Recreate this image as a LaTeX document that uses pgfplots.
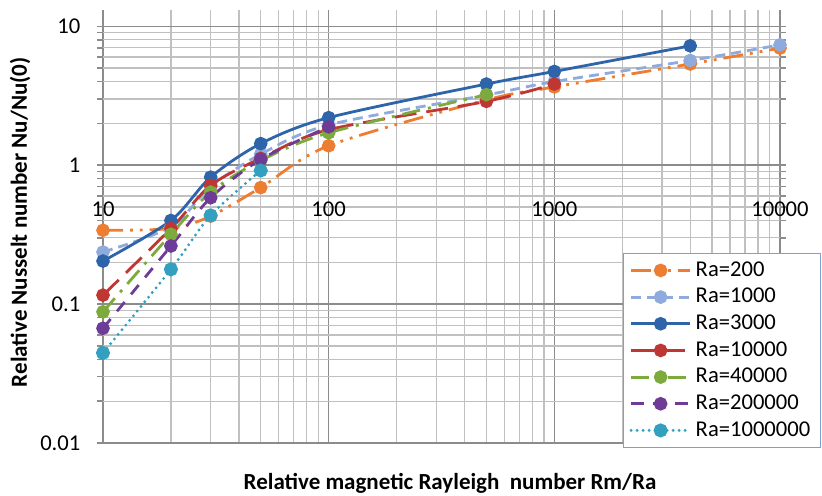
\documentclass[border=0pt]{standalone}
\usepackage{fontspec}
\setmainfont{Carlito}
\usepackage{pgfplots}
\pgfplotsset{compat=1.18}
\definecolor{cOr}{RGB}{237,125,49}
\definecolor{cLb}{RGB}{143,170,220}
\definecolor{cBl}{RGB}{46,100,170}
\definecolor{cRd}{RGB}{190,55,50}
\definecolor{cGr}{RGB}{125,170,60}
\definecolor{cPu}{RGB}{110,60,150}
\definecolor{cTe}{RGB}{50,160,190}
\definecolor{gMaj}{RGB}{140,140,140}
\definecolor{gMin}{RGB}{192,192,192}
\definecolor{legB}{RGB}{128,158,208}
\begin{document}
\begin{tikzpicture}
\path[use as bounding box] (0,0) rectangle (411pt,248pt);
\begin{axis}[
  at={(51.5pt,26.5pt)}, anchor=south west,
  width=338.5pt, height=216.5pt, scale only axis,
  xmode=log, ymode=log,
  xmin=10, xmax=10000, ymin=0.01, ymax=13.1,
  clip=false,
  axis line style={draw=none},
  grid=both,
  major grid style={draw=gMaj, line width=0.75pt},
  minor grid style={draw=gMin, line width=0.65pt},
  xtick={10,100,1000,10000},
  xticklabels={10,100,1000,10000},
  ytick={0.01,0.1,1,10},
  yticklabels={0.01,0.1,1,10},
  xtick style={draw=none},
  ytick style={draw=gMaj, line width=0.75pt},
  minor tick style={draw=none},
  tick align=outside,
  major tick length=3pt,
  tick label style={font=\fontsize{11.3}{13}\selectfont},
  xticklabel style={anchor=center, yshift=120pt},
  yticklabel style={xshift=-4.8pt},
  xlabel={\textbf{Relative magnetic Rayleigh\ \ number Rm/Ra}},
  ylabel={\textbf{Relative Nusselt number Nu/Nu(0)}},
  label style={font=\fontsize{11.5}{13}\selectfont},
  xlabel style={at={(axis description cs:0.5126,-0.0924)}, anchor=center},
  ylabel style={at={(axis description cs:-0.1226,0.51)}, anchor=center},
  every axis plot/.append style={line width=1.4pt, smooth, tension=0.5,
     mark=*, mark size=2.7pt, mark options={solid}},
  legend cell align=left,
  legend image code/.code={\draw[mark repeat=2,mark phase=2] plot coordinates {(0pt,0pt) (14.75pt,0pt) (29.5pt,0pt)};},
  legend style={at={(axis description cs:0.768,0.4388)}, anchor=north west,
     draw=legB, line width=0.6pt, fill=white,
     font=\fontsize{11.3}{13}\selectfont, row sep=0.5pt,
     inner xsep=3pt, inner ysep=2pt},
]
\addplot[color=cOr, dash pattern=on 10pt off 3.5pt on 1.4pt off 3.5pt on 1.4pt off 3.5pt]
  coordinates {(10,0.34) (20,0.35) (30,0.43) (50,0.69) (100,1.38) (500,2.95) (1000,3.66) (4000,5.35) (10000,6.96)};
\addlegendentry{Ra=200}
\addplot[color=cLb, dash pattern=on 5pt off 3pt]
  coordinates {(10,0.237) (20,0.36) (30,0.70) (50,1.2) (100,1.95) (500,3.2) (1000,4.0) (4000,5.67) (10000,7.35)};
\addlegendentry{Ra=1000}
\addplot[color=cBl]
  coordinates {(10,0.204) (20,0.40) (30,0.82) (50,1.43) (100,2.2) (500,3.84) (1000,4.73) (4000,7.23)};
\addlegendentry{Ra=3000}
\addplot[color=cRd, dash pattern=on 11pt off 5pt]
  coordinates {(10,0.116) (20,0.35) (30,0.715) (50,1.12) (100,1.8) (500,2.88) (1000,3.84)};
\addlegendentry{Ra=10000}
\addplot[color=cGr, dash pattern=on 9pt off 4pt on 1.5pt off 4pt]
  coordinates {(10,0.088) (20,0.318) (30,0.64) (50,1.08) (100,1.71) (500,3.22)};
\addlegendentry{Ra=40000}
\addplot[color=cPu, dash pattern=on 6pt off 5pt]
  coordinates {(10,0.067) (20,0.262) (30,0.583) (50,1.10) (100,1.89)};
\addlegendentry{Ra=200000}
\addplot[color=cTe, line cap=round, dash pattern=on 0pt off 3pt, line width=1.6pt]
  coordinates {(10,0.0445) (20,0.178) (30,0.435) (50,0.916)};
\addlegendentry{Ra=1000000}
\end{axis}
\end{tikzpicture}
\end{document}
